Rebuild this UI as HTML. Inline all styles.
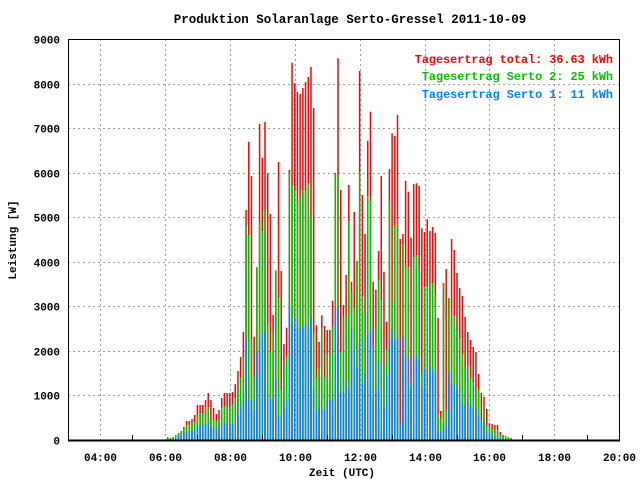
<!DOCTYPE html>
<html><head><meta charset="utf-8"><style>
body{margin:0;background:#fff}
svg text{font-family:"Liberation Mono","DejaVu Sans Mono",monospace;font-weight:bold;font-size:11px}
</style></head><body>
<svg id="chart" width="640" height="480" xmlns="http://www.w3.org/2000/svg">
<rect x="0" y="0" width="640" height="480" fill="#fff"/>
<text x="350" y="23" text-anchor="middle" style="font-size:12.5px">Produktion Solaranlage Serto-Gressel 2011-10-09</text>
<g id="grid"></g>
<g id="bars"></g>
<g id="axes"></g>
<text x="16" y="240" text-anchor="middle" transform="rotate(-90 16 240)">Leistung [W]</text>
<text x="342" y="476" text-anchor="middle">Zeit (UTC)</text>
<text x="613" y="63" text-anchor="end" fill="#ff0000" style="font-size:11.8px">Tagesertrag total: 36.63 kWh</text>
<text x="613" y="80" text-anchor="end" fill="#00c000" style="font-size:11.8px">Tagesertrag Serto 2: 25 kWh</text>
<text x="613" y="98" text-anchor="end" fill="#0080ff" style="font-size:11.8px">Tagesertrag Serto 1: 11 kWh</text>
</svg>
<script>
const startMinute = 365; // 06:05, 5-minute steps
const totalValues = [67,45,67,112,157,202,292,426,426,471,560,785,785,785,897,1054,897,718,583,673,942,1054,1054,1054,1077,1256,1548,1862,2423,
5161,6694,5924,2319,3875,7091,6335,7136,5984,5071,2805,3800,6238,3792,2154,2521,6059,8467,8004,7809,7764,7899,8034,8146,8370,7450,2574,2199,2798,2558,2468,
2468,3126,5998,8565,5610,3029,3703,5722,3553,5116,4017,8280,5498,4623,6717,7368,3553,3366,4241,5924,3777,2655,6081,6882,6822,7293,4511,4623,5812,5572,4540,5745,5760,5700,4750,4668,4952,
4690,4780,4645,2738,651,3523,3837,3187,4511,4264,3748,3411,3231,2760,2424,2244,2087,1975,1481,1055,965,696,374,359,337,337,180,112,90,60,45];
const serto2Values = [67,45,67,112,157,202,292,337,337,381,404,560,605,583,740,740,449,449,426,471,718,763,740,718,808,942,1144,1413,1862,
4825,4600,2259,1421,3875,4914,4690,5177,2618,1982,2431,3800,3194,1122,1683,1870,5999,5700,5610,5341,5453,5610,5610,5760,5049,2408,1385,1609,2520,1385,1945,
1885,2543,5998,5947,1982,2768,2768,4914,3329,2954,4017,6021,3217,2880,5483,5371,2057,2506,3590,3142,1683,2020,5363,3104,4825,4937,374,4398,3889,3889,1272,4113,4150,3852,1533,3441,3441,
3523,3523,3254,598,486,3523,651,3187,2805,2805,2468,2289,1930,1616,1683,1398,1302,1174,1122,449,748,337,299,239,239,224,112,112,90,60,45];
const serto1Values = [0,0,0,45,90,112,157,179,202,202,247,292,314,314,359,359,269,224,247,292,381,381,381,359,359,471,561,763,920,
2244,898,898,673,1982,2282,2394,2431,972,935,935,1346,524,524,748,898,2992,2618,2768,2506,2506,2543,2581,2618,2805,1160,635,748,673,673,898,
898,935,2955,2955,1084,1047,1309,1137,2506,2020,1646,2244,1272,1496,2319,2468,972,1122,1758,748,748,1496,2244,2468,2244,2274,374,2319,1833,1833,1160,1870,1870,1758,1160,1571,1571,
1646,1571,1496,224,187,337,299,1496,1272,1272,1122,1084,785,785,860,785,748,711,561,411,411,187,150,150,60,60,20,0,0,0,0];
const yTicks = [0,1000,2000,3000,4000,5000,6000,7000,8000,9000];
const xTickLabels = ["04:00","06:00","08:00","10:00","12:00","14:00","16:00","18:00","20:00"];
const xTickHours = [4,6,8,10,12,14,16,18,20];

const NS="http://www.w3.org/2000/svg";
const X0=67.55, PXH=32.45, Y0=440, PX1000=44.56, L=68, R=619, T=39;
function xScale(min){return X0+(min/60-3)*PXH;}
function yScale(v){return Y0-v*PX1000/1000;}
function mk(tag,attrs,parent){const e=document.createElementNS(NS,tag);for(const k in attrs)e.setAttribute(k,attrs[k]);parent.appendChild(e);return e;}
const grid=document.getElementById('grid'),bars=document.getElementById('bars'),axes=document.getElementById('axes');
yTicks.forEach(v=>{
  const y=Math.round(yScale(v))+0.5;
  if(v>0&&v<9000){const l=mk('line',{x1:L,x2:R,y1:y,y2:y,stroke:'#a0a0a0','stroke-dasharray':'2,3'},grid);
  
  }
  const t=mk('text',{x:60,y:y+4,'text-anchor':'end'},axes);t.textContent=v;
  
  
});
xTickHours.forEach((h,i)=>{
  const x=Math.round(xScale(h*60))+0.5;
  if(h<20){const l=mk('line',{x1:x,x2:x,y1:T,y2:Y0,stroke:'#a0a0a0','stroke-dasharray':'2,3'},grid);
  
  }
  const m=mk('line',{x1:Math.round(xScale(h*60+60))+0.5,x2:Math.round(xScale(h*60+60))+0.5,y1:Y0-5,y2:Y0,stroke:'#000'},axes);
  
  
  const t=mk('text',{x:x,y:461,'text-anchor':'middle'},axes);t.textContent=xTickLabels[i];
  
  
});
const series=[[totalValues,'#ff0000','bar-total'],[serto2Values,'#00c000','bar-serto2'],[serto1Values,'#0080ff','bar-serto1']];
series.forEach(([vals,col,name])=>{
  vals.forEach((v,i)=>{
    if(v<=0)return;
    const x=xScale(startMinute+i*5);
    const r=mk('rect',{x:x-0.7,y:yScale(v),width:1.5,height:Y0-yScale(v),fill:col},bars);
    
    
  });
});
const f=mk('rect',{x:L+0.5,y:T+0.5,width:R-L,height:Y0-T,fill:'none',stroke:'#000'},axes);


const b=mk('line',{x1:L,x2:R+1,y1:Y0+0.5,y2:Y0+0.5,stroke:'#000','stroke-width':2},axes);


</script>
</body></html>
